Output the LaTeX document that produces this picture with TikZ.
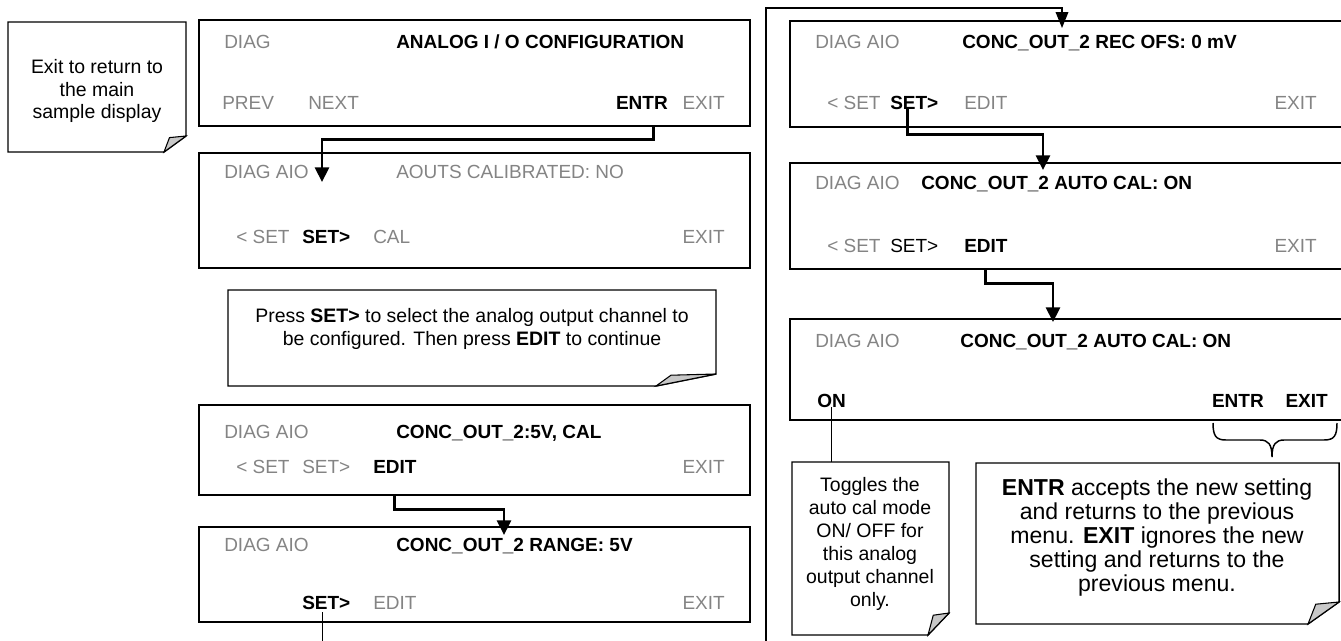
\documentclass[tikz,border=0pt]{standalone}
\usepackage{fontspec}
\setmainfont{Liberation Sans}
\usetikzlibrary{arrows.meta,fit,calc}
\definecolor{txtgray}{RGB}{132,132,132}
\definecolor{foldgray}{RGB}{200,200,200}
\newcommand{\NoteShape}[6]{%
  \draw[line width=1.1pt,fill=white] (#1,#2) -- (#3,#2) -- (#3,#4-#6) -- (#3-#5,#4) -- (#1,#4) -- cycle;
  \draw[line width=0.8pt,fill=foldgray] (#3,#4-#6) -- (#3-0.75*#5,#4-0.9*#6) -- (#3-#5,#4) -- cycle;}
\begin{document}
\begin{tikzpicture}[x=0.75pt,y=-0.75pt,
  box/.style={draw=black,line width=1.1pt,inner sep=0pt},
  holder/.style={draw=none,inner sep=0pt},
  g/.style={text=txtgray,font=\fontsize{14.25}{17}\selectfont,inner sep=0pt},
  k/.style={text=black,font=\fontsize{14.25}{17}\selectfont,inner sep=0pt},
  kb/.style={text=black,font=\fontsize{14.25}{17}\selectfont\bfseries,inner sep=0pt},
  conn/.style={line width=2.2pt,-{Triangle[length=11pt,width=10.5pt]}},
  thinconn/.style={line width=1.1pt,-{Triangle[length=12pt,width=9.5pt]}},
  thinline/.style={line width=1.1pt},
  notetext/.style={align=center,inner sep=0pt,font=\fontsize{14.6}{17}\selectfont},
  bignotetext/.style={align=center,inner sep=0pt,font=\fontsize{17.3}{18}\selectfont},
]
\path[use as bounding box] (0,0) rectangle (1341,640);
\clip (0,0) rectangle (1341,640);

% ---------- left column boxes ----------
\node[box,fit={(199,20)(750,126)}] (b1) {};
\node[box,fit={(199,153)(750,268)}] (b2) {};
\node[box,fit={(199,405)(750,495)}] (b3) {};
\node[box,fit={(199,527)(750,622)}] (b4) {};
% ---------- right column boxes ----------
\node[box,fit={(790,21)(1346,127)}] (b5) {};
\node[box,fit={(790,163)(1346,269)}] (b6) {};
\node[box,fit={(790,319)(1346,420)}] (b7) {};

% box 1
\node[g,anchor=base west] (d1) at (224,48) {DIAG};
\node[kb,anchor=base west] (t1) at (396,48) {ANALOG I / O CONFIGURATION};
\node[g,anchor=base west] (prev1) at (222,109) {PREV};
\node[g,anchor=base west] (next1) at (308,109) {NEXT};
\node[kb,anchor=base east] (entr1) at (668,109) {ENTR};
\node[g,anchor=base east] (exit1) at (725,109) {EXIT};
% box 2
\node[g,anchor=base west] (d2) at (224,178) {DIAG AIO};
\node[g,anchor=base west] (t2) at (396,178) {AOUTS CALIBRATED: NO};
\node[g,anchor=base west] (ls2) at (236,243) {< SET};
\node[kb,anchor=base west] (rs2) at (302,243) {SET>};
\node[g,anchor=base west] (cal2) at (373,243) {CAL};
\node[g,anchor=base east] (exit2) at (725,243) {EXIT};
% box 3
\node[g,anchor=base west] (d3) at (224,438) {DIAG AIO};
\node[kb,anchor=base west] (t3) at (396,438) {CONC\_OUT\_2:5V, CAL};
\node[g,anchor=base west] (ls3) at (236,473) {< SET};
\node[g,anchor=base west] (rs3) at (302,473) {SET>};
\node[kb,anchor=base west] (ed3) at (373,473) {EDIT};
\node[g,anchor=base east] (exit3) at (725,473) {EXIT};
% box 4
\node[g,anchor=base west] (d4) at (224,551) {DIAG AIO};
\node[kb,anchor=base west] (t4) at (396,551) {CONC\_OUT\_2 RANGE: 5V};
\node[kb,anchor=base west] (rs4) at (302,609) {SET>};
\node[g,anchor=base west] (ed4) at (373,609) {EDIT};
\node[g,anchor=base east] (exit4) at (725,609) {EXIT};
% box 5
\node[g,anchor=base west] (d5) at (815,48) {DIAG AIO};
\node[kb,anchor=base west] (t5) at (962,48) {CONC\_OUT\_2 REC OFS: 0 mV};
\node[g,anchor=base west] (ls5) at (827,109) {< SET};
\node[kb,anchor=base west] (rs5) at (890,109) {SET>};
\node[g,anchor=base west] (ed5) at (964,109) {EDIT};
\node[g,anchor=base east] (exit5) at (1317,109) {EXIT};
% box 6
\node[g,anchor=base west] (d6) at (815,189) {DIAG AIO};
\node[kb,anchor=base west] (t6) at (921,189) {CONC\_OUT\_2 AUTO CAL: ON};
\node[g,anchor=base west] (ls6) at (827,252) {< SET};
\node[k,anchor=base west] (rs6) at (890,252) {SET>};
\node[kb,anchor=base west] (ed6) at (964,252) {EDIT};
\node[g,anchor=base east] (exit6) at (1317,252) {EXIT};
% box 7
\node[g,anchor=base west] (d7) at (815,347) {DIAG AIO};
\node[kb,anchor=base west] (t7) at (960,347) {CONC\_OUT\_2 AUTO CAL: ON};
\node[kb,anchor=base west] (on7) at (817,407) {ON};
\node[kb,anchor=base east] (entr7) at (1264,407) {ENTR};
\node[kb,anchor=base east] (exit7) at (1328,407) {EXIT};

% ---------- notes ----------
\NoteShape{8}{22}{186}{152}{22}{16}
\node[holder,fit={(8,22)(186,152)}] (n1) {};
\node[notetext] (n1t) at (97,91) {Exit to return to\\the main\\sample display};

\NoteShape{228}{290}{716}{386}{60}{12}
\node[holder,fit={(228,290)(716,386)}] (n2) {};
\node[notetext] (n2t) at (472,329) {Press \textbf{SET>} to select the analog output channel to\\be configured. Then press \textbf{EDIT} to continue};

\NoteShape{792}{462}{949}{635}{21}{22}
\node[holder,fit={(792,462)(949,635)}] (n3) {};
\node[notetext,font=\fontsize{14.6}{17.3}\selectfont] (n3t) at (870,544) {Toggles the\\auto cal mode\\ON/ OFF for\\this analog\\output channel\\only.};

\NoteShape{976}{463}{1339}{624}{31}{22}
\node[holder,fit={(976,463)(1339,624)}] (n4) {};
\node[bignotetext] (n4t) at (1157,538) {\textbf{ENTR} accepts the new setting\\and returns to the previous\\menu. \textbf{EXIT} ignores the new\\setting and returns to the\\previous menu.};

% ---------- connectors ----------
\coordinate (tip1) at (322,182);
\coordinate (tip2) at (504,535);
\coordinate (tip4) at (1062,28);
\coordinate (tip5) at (1043,170);
\coordinate (tip6) at (1053,322);

\draw[conn] ([xshift=9pt]entr1.south |- b1.south) -- ++(0,13) -| (tip1);
\draw[conn] (ed3.south |- b3.south) -- ++(0,14) -| (tip2);
\draw[thinconn] ([xshift=-3pt,yshift=-2pt]rs4.south) -- ++(0,60) -| (766,8) -| (tip4);
\draw[conn] ([xshift=-5pt]rs5.south) -- ++(0,25) -| (tip5);
\draw[conn] (ed6.south |- b6.south) -- ++(0,14) -| (tip6);
\draw[thinline] (on7.south) -- (on7.south |- n3.north);

% brace under ENTR EXIT
\draw[thinline] (1213,423) .. controls (1213,436) and (1216,440) .. (1226,440) -- (1260,440)
  .. controls (1268,440) and (1272,444) .. (1272,457)
  .. controls (1272,444) and (1276,440) .. (1284,440) -- (1324,440)
  .. controls (1334,440) and (1337,436) .. (1337,423);
\end{tikzpicture}
\end{document}
